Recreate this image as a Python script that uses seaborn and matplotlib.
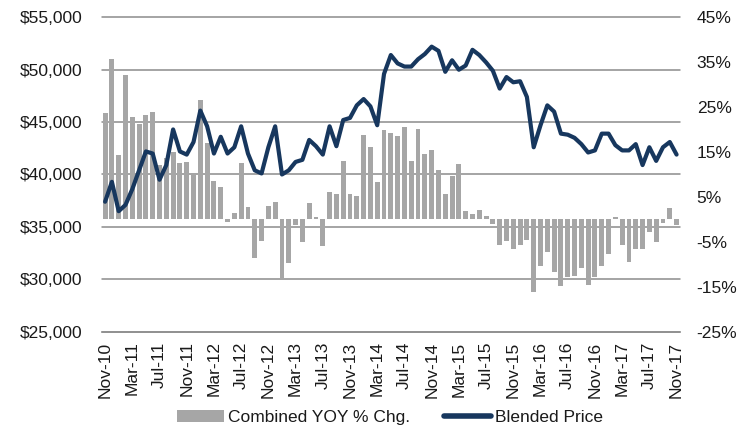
import numpy as np
import pandas as pd
import matplotlib
matplotlib.use("Agg")
import matplotlib.pyplot as plt
from matplotlib.patches import Patch
from matplotlib.lines import Line2D
import seaborn as sns

# monthly categories Nov-10 .. Nov-17
months = pd.date_range("2010-11-01", periods=85, freq="MS").strftime("%b-%y").tolist()

# Combined YOY % change (right axis)
yoy_pct = [23.8, 35.7, 14.3, 32.2, 22.7, 21.2, 23.2, 23.9, 12.1, 13.6,
           15.0, 12.5, 12.8, 10.1, 26.6, 17.0, 8.5, 7.3, -0.5, 1.4,
           12.6, 2.8, -8.5, -4.9, 3.0, 3.8, -13.0, -9.8, -1.3, -5.1,
           3.6, 0.6, -5.9, 6.2, 5.6, 13.1, 5.6, 5.2, 18.8, 16.1,
           8.4, 19.8, 19.2, 18.6, 20.5, 13.1, 20.2, 14.5, 15.4, 11.1,
           5.6, 9.7, 12.3, 1.9, 1.2, 2.2, 0.8, -1.0, -5.8, -4.7,
           -6.7, -5.8, -4.6, -16.2, -10.3, -7.3, -11.6, -14.8, -12.9, -12.6,
           -10.9, -14.5, -12.9, -10.3, -7.6, 0.5, -5.7, -9.5, -6.6, -6.7,
           -2.8, -5.1, -0.7, 2.6, -1.2]

# Blended price in $ (left axis)
blended_price = [37400, 39300, 36500, 37100, 38600, 40400, 42200, 42000, 39500, 40900,
                 44300, 42200, 41900, 43100, 46100, 44600, 42000, 43600, 42000, 42600,
                 44600, 42000, 40400, 40100, 42600, 44600, 40000, 40400, 41200, 41400,
                 43300, 42700, 41900, 44600, 42700, 45200, 45400, 46600, 47200, 46500,
                 44700, 49600, 51400, 50600, 50300, 50300, 51000, 51500, 52200, 51800,
                 49800, 50900, 50000, 50400, 51900, 51400, 50700, 49900, 48200, 49300,
                 48800, 48900, 47400, 42600, 44700, 46600, 46000, 43900, 43800, 43500,
                 42900, 42100, 42300, 43900, 43900, 42800, 42300, 42300, 42900, 40900,
                 42600, 41300, 42600, 43100, 41900]

price_ticks = list(range(25000, 55001, 5000))
pct_ticks = list(range(-25, 46, 10))

bar_color = "#a6a6a6"
line_color = "#17375e"
grid_color = "#8c8c8c"
text_color = "#1a1a1a"

df = pd.DataFrame({"month": months, "idx": np.arange(len(months)),
                   "yoy": yoy_pct, "price": blended_price})

sns.set_style("white")
plt.rcParams["font.family"] = ["Liberation Sans", "DejaVu Sans"]

fig = plt.figure(figsize=(7.4, 4.33), dpi=100)
ax = fig.add_axes([0.1374, 0.234, 0.7815, 0.726])
ax2 = ax.twinx()

# bars (percent scale) in the bottom axes, gridlines drawn behind them
sns.barplot(data=df, x="month", y="yoy", order=months, color=bar_color,
            saturation=1, width=0.72, linewidth=0, ax=ax)
for p in price_ticks:
    frac = (p - price_ticks[0]) / (price_ticks[-1] - price_ticks[0])
    ax.plot([0, 1], [frac, frac], transform=ax.transAxes, color=grid_color,
            lw=1.1, zorder=0, clip_on=False)

# price line on top
sns.lineplot(data=df, x="idx", y="price", color=line_color, linewidth=3.0, ax=ax2)

ax.set_xlim(-0.5, len(months) - 0.5)
ax.set_ylim(-25, 45)
ax2.set_ylim(25000, 55000)

# y axes: price on the left, percent on the right
ax.yaxis.set_ticks_position("right")
ax2.yaxis.set_ticks_position("left")
ax.set_yticks(pct_ticks)
ax.set_yticklabels([f"{v}%" for v in pct_ticks])
ax2.set_yticks(price_ticks)
ax2.set_yticklabels([f"${v:,}" for v in price_ticks])
ax.tick_params(axis="y", length=0, pad=12, labelsize=12.5, labelcolor=text_color)
ax2.tick_params(axis="y", length=0, pad=14, labelsize=12.5, labelcolor=text_color)

# x axis: label every 4th month, tick marks between categories
ax.set_xticks(np.arange(0, len(months), 4))
ax.set_xticklabels(months[::4], rotation=90)
ax.set_xticks(np.arange(-0.5, len(months), 4), minor=True)
ax.tick_params(axis="x", which="major", length=0, pad=7, labelsize=12.5,
               labelcolor=text_color)
ax.tick_params(axis="x", which="minor", length=5, width=1, color=grid_color,
               direction="out")
ax.set_xlabel("")
ax.set_ylabel("")
ax2.set_ylabel("")

for s in ["top", "left", "right"]:
    ax.spines[s].set_visible(False)
ax.spines["bottom"].set_color(grid_color)
ax.spines["bottom"].set_linewidth(1.1)
for s in ax2.spines.values():
    s.set_visible(False)

handles = [Patch(facecolor=bar_color, edgecolor="none"),
           Line2D([0], [0], color=line_color, lw=4)]
fig.legend(handles, ["Combined YOY % Chg.", "Blended Price"],
           loc="center", bbox_to_anchor=(0.527, 0.035), ncol=2, frameon=False,
           fontsize=12.5, handlelength=2.7, handletextpad=0.2, columnspacing=2.0,
           labelcolor=text_color)

fig.savefig("out.png", dpi=100)
